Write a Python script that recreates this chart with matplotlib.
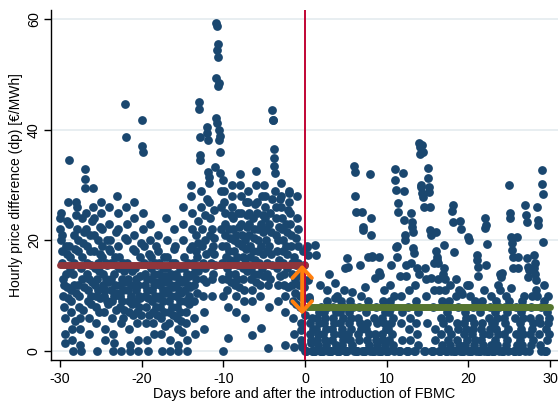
#!/usr/bin/env python3
import matplotlib
matplotlib.use("Agg")
import matplotlib.pyplot as plt

# price difference per day (one row per day)
PRE_START = -30
PRE_DP = [
    [24, 22, 25, 20, 18, 16, 21, 13, 10, 12, 8, 6, 3, 1.5, 14, 19, 17.5, 11.5, 23.5, 9.5],
    [27, 34.5, 23, 19, 17, 15, 11, 9, 7, 4, 2, 0, 14, 21, 12, 16, 5.5, 18.5, 10.5, 24.5],
    [27, 26, 22, 20, 18, 12, 10, 8, 6, 4, 1, 0, 15, 24, 13, 17, 7.5, 19.5, 11.5, 21.5],
    [32.9, 31.1, 29.5, 25, 22, 19, 16, 14, 11, 9, 6, 3, 13, 18, 21, 10, 15.5, 8.5, 12.5, 23.5],
    [29.5, 26, 24, 21, 18, 15, 12, 10, 8, 5, 0, 13, 11, 16, 20, 7, 14.5, 9.5, 17.5, 22.5],
    [27, 25, 22, 19, 17, 14, 12, 10, 7, 4, 2, 11, 13, 16, 9, 20, 15.5, 8.5, 12.5, 18.5],
    [26, 23, 20, 18, 16, 13, 11, 9, 6, 3, 0, 1.5, 14, 10, 12, 17, 7.5, 15.5, 21.5, 10.5],
    [28, 25, 22, 19, 17, 15, 12, 10, 8, 5, 0, 13, 9, 11, 16, 6, 14.5, 7.5, 20.5, 12.5],
    [44.7, 38.7, 26, 23, 20, 16, 13, 11, 9, 7, 4, 1, 0, 12, 10, 15, 8.5, 14.5, 18.5, 6.5],
    [27, 24, 21, 18, 15, 13, 11, 9, 7, 5, 2, 0, 12, 10, 8, 17, 9.5, 13.5, 6.5, 19.5],
    [41.8, 37.1, 36.0, 25, 22, 19, 16, 14, 12, 10, 8, 5, 2, 13, 11, 0, 9.5, 15.5, 6.5, 17.5],
    [23, 20, 17, 15, 13, 11, 9, 7, 5, 3, 12, 14, 10, 16, 8, 19, 12.5, 6.5, 15.5, 9.5],
    [21, 18, 16, 14, 12, 10, 8, 6, 3, 0, 13, 11, 15, 9, 7, 17, 10.5, 13.5, 4.5, 12.5],
    [24, 20, 17, 15, 13, 11, 9, 7, 5, 2, 0, 12, 14, 10, 16, 8, 11.5, 6.5, 13.5, 18.5],
    [22, 19, 16, 14, 12, 10, 8, 6, 4, 1, 0, 11, 13, 9, 15, 7, 10.5, 5.5, 12.5, 3.5],
    [26, 23, 20, 17, 15, 13, 11, 9, 7, 5, 2, 0, 14, 12, 16, 10, 8.5, 13.5, 18.5, 11.5],
    [30, 28, 25, 22, 19, 16, 14, 12, 9, 6, 3, 15, 13, 18, 21, 17, 10.5, 23.5, 14.5, 19.5],
    [45.0, 43.7, 38.7, 35.4, 34.5, 29, 26, 22, 19, 16, 13, 10, 7, 4, 20, 15, 24.5, 17.5, 12.5, 27.5],
    [39.4, 40.5, 38.2, 32.4, 31.5, 30.4, 27, 24, 21, 18, 16, 13, 10, 22, 19, 14, 20.5, 17.5, 25.5, 15.5],
    [33.3, 42.1, 59.3, 49.4, 54.4, 58.7, 41.2, 47.9, 53.2, 55.5, 48.5, 38.2,
     40.0, 36.0, 38.9, 32.2, 29, 26, 22, 19, 16, 13, 10, 0],
    [31, 29, 27, 25, 23, 21, 19, 17, 15, 13, 11, 8, 2.3, 22, 18, 14, 20.5, 16.5, 24.5, 12.5],
    [30, 28, 26, 24, 22, 20, 18, 16, 14, 12, 10, 7, 21, 17, 13, 25, 19.5, 15.5, 22.5, 11.5],
    [32, 30, 28, 25, 23, 21, 19, 17, 15, 13, 11, 9, 6, 20, 16, 27, 18.5, 22.5, 14.5, 24.5],
    [29, 27, 25, 23, 21, 19, 17, 15, 13, 11, 9, 2.9, 24, 18, 14, 22, 20.5, 16.5, 26.5, 12.5],
    [32.5, 30, 27, 25, 22, 20, 18, 16, 14, 12, 10, 4.2, 23, 19, 15, 28, 21.5, 17.5, 24.5, 13.5],
    [30, 28, 26, 24, 22, 20, 18, 16, 14, 12, 0.5, 8, 23, 19, 25, 13, 21.5, 17.5, 27.5, 15.5],
    [43.6, 41.8, 41.8, 36.5, 34.9, 33.5, 32.2, 29, 26, 24, 21, 18, 15, 12, 9, 20, 22.5, 16.5, 27.5, 13.5],
    [30.4, 28, 26, 24, 22, 20, 18, 16, 14, 12, 10, 7, 1, 23, 19, 15, 21.5, 17.5, 11.5, 25.5],
    [28.9, 28.6, 27, 25, 23, 21, 19, 16, 14, 12, 9, 6, 3, 0.7, 17, 13, 10.5, 15.5, 20.5, 8.5],
    [28, 24, 22, 19, 16, 14, 12, 10, 8, 5, 3.8, 2, 1, 0.7, 13, 18, 9.5, 11.5, 15.5, 6.5],
]

POST_START = 0
POST_DP = [
    [0, 0, 0, 18.8, 19.0, 17.4, 12.8, 9.8, 9.4, 5, 3, 1.5, 2, 0, 6, 4],
    [0, 0, 0, 0, 19.2, 17.3, 4, 2, 6, 1, 3, 7, 5, 0, 12, 8],
    [0, 0, 0, 0, 3, 5, 7, 2, 6, 1, 4, 9, 11, 0, 8, 14],
    [0, 0, 0, 0, 2, 4, 6, 8, 3, 5, 12.3, 9.6, 1, 7, 0, 10],
    [0, 0, 0, 0, 5, 7, 3, 9, 1, 4, 6, 2, 11, 8, 15, 0],
    [0, 0, 0, 16.8, 15.2, 3, 5, 7, 2, 9, 4, 6, 1, 10.7, 8, 0],
    [33.5, 32.3, 28, 25.1, 0, 0, 0, 3, 6, 8, 2, 5, 15.5, 4, 10, 0],
    [25.1, 22.4, 21.9, 0, 0, 0, 11.6, 4, 7, 2, 5, 9, 17, 3, 1, 0],
    [32.0, 24.0, 21.0, 17, 17.2, 0, 0, 0, 6, 3, 13.2, 8, 2, 5, 1, 0],
    [17, 14.3, 13.7, 0, 0, 0, 3, 6, 9, 2, 5, 11, 7, 1, 4, 0],
    [0, 0, 0, 4, 7, 2, 9, 12, 5, 15.5, 3, 8, 1, 6, 10, 0],
    [32.9, 30.9, 29.1, 18.8, 19, 17, 26.8, 25.1, 0, 0, 0, 13.5, 10, 5, 2, 7],
    [32.2, 28.9, 23.7, 21, 20, 15.5, 13.5, 0, 0, 0, 8, 4, 11, 2, 6, 16],
    [25, 23.3, 22.4, 21.5, 18.6, 17.7, 0, 0, 12, 9, 5, 3, 15, 7, 1, 14],
    [37.6, 36.9, 35.7, 30.0, 29.7, 28.6, 37.2, 36, 27.8, 26, 0, 0, 15, 10, 13, 5],
    [33.0, 31.3, 29.6, 28.8, 26, 21.9, 21, 13.2, 0, 0, 0, 8, 16, 11, 4, 2],
    [21.5, 18, 17, 16.5, 16, 13, 11, 0, 0, 0, 6, 3, 9, 1, 5, 14],
    [19.2, 15, 13, 11, 0, 0, 0, 7, 4, 2, 9, 6, 12, 1, 3, 0],
    [25.3, 26.4, 23.3, 17.9, 0, 0, 0, 10, 13, 5, 2, 8, 4, 1, 11, 0],
    [23.5, 22, 10.7, 10.3, 0, 0, 0, 5, 3, 7, 1, 4, 6, 12, 2, 0],
    [20.6, 20, 12, 10, 0, 0, 0, 6, 3, 8, 4, 1, 5, 2, 9, 0],
    [17.4, 16.5, 15.2, 13.6, 0, 0, 0, 7, 4, 2, 9, 5, 1, 3, 11, 0],
    [24, 22.2, 22.8, 15.5, 19.3, 0, 0, 0, 6, 3, 8, 4, 1, 10, 5, 0],
    [0, 0, 0, 5, 2, 7, 4, 9, 1, 6, 3, 12, 8, 0, 11, 14],
    [13.4, 14.1, 0, 0, 0, 6, 3, 8, 5, 1, 10, 2, 7, 4, 0, 9],
    [30, 25, 24, 11.4, 20.6, 19.5, 18.3, 17, 15, 0, 0, 0, 6, 3, 8, 1],
    [20.6, 17, 15, 0, 0, 5, 2, 7, 4, 9, 1, 6, 3, 10, 8, 0],
    [26.4, 24.6, 23.3, 16.8, 15.2, 13.4, 14.6, 0, 3, 6, 1, 8, 4, 10, 2, 5],
    [17.4, 15, 14, 16, 12.8, 11, 10, 26, 23.7, 22.8, 3, 6, 1, 5, 8, 0],
    [32.7, 30.2, 28.4, 19.7, 12, 9, 0, 0, 0, 4, 7, 2, 5, 10, 3, 6],
]

PRE_MEAN = 15.6
POST_MEAN = 7.95
X_TICKS = [-30, -20, -10, 0, 10, 20, 30]
Y_TICKS = [0, 20, 40, 60]

NAVY = "#1a476f"
CRANBERRY = "#90353b"
OLIVE = "#55752f"
ORANGE = "#ff7f0e"
VLINE = "#c10534"


def to_points(start, rows):
    xs, ys = [], []
    for i, row in enumerate(rows):
        n = len(row)
        for k, v in enumerate(row):
            xs.append(start + i + k / n)
            ys.append(v)
    return xs, ys


def main():
    plt.rcParams["font.family"] = ["Liberation Sans", "DejaVu Sans"]
    plt.rcParams["axes.unicode_minus"] = False

    fig = plt.figure(figsize=(5.58, 4.03), dpi=100)
    ax = fig.add_axes([0.0909, 0.1067, 0.9091, 0.8685])

    for y in Y_TICKS:
        ax.axhline(y, color="#e8eef1", lw=1.4, zorder=0)

    px, py = to_points(PRE_START, PRE_DP)
    qx, qy = to_points(POST_START, POST_DP)
    ax.scatter(px + qx, py + qy, s=40, color=NAVY, linewidths=0, zorder=2)

    ax.plot([-30, 0], [PRE_MEAN, PRE_MEAN], color=CRANBERRY, lw=5,
            solid_capstyle="round", zorder=3)
    ax.plot([0.2, 30], [POST_MEAN, POST_MEAN], color=OLIVE, lw=5,
            solid_capstyle="round", zorder=3)
    ax.axvline(0, color=VLINE, lw=1.4, zorder=4)

    ax.annotate("", xy=(-0.35, 6.6), xytext=(-0.35, PRE_MEAN),
                arrowprops=dict(arrowstyle="<->,head_length=0.75,head_width=0.7",
                                color=ORANGE, lw=2.8, shrinkA=0, shrinkB=0),
                zorder=5)

    ax.set_xlim(-31.14, 30.98)
    ax.set_ylim(-1.63, 61.66)
    ax.set_xticks(X_TICKS)
    ax.set_yticks(Y_TICKS)
    ax.tick_params(axis="both", direction="out", length=5, width=1,
                   labelsize=10.3, colors="black")
    ax.tick_params(axis="y", pad=2)
    for lab in ax.get_yticklabels():
        lab.set_rotation(90)
        lab.set_va("center")
    ax.spines["top"].set_visible(False)
    ax.spines["right"].set_visible(False)
    ax.spines["left"].set_linewidth(1)
    ax.spines["bottom"].set_linewidth(1)

    ax.set_xlabel("Days before and after the introduction of FBMC", fontsize=10.4,
                  labelpad=1)
    ax.set_ylabel("Hourly price difference (dp) [€/MWh]", fontsize=10, labelpad=3)

    fig.savefig("out.png", dpi=100)
    plt.close(fig)


if __name__ == "__main__":
    main()
